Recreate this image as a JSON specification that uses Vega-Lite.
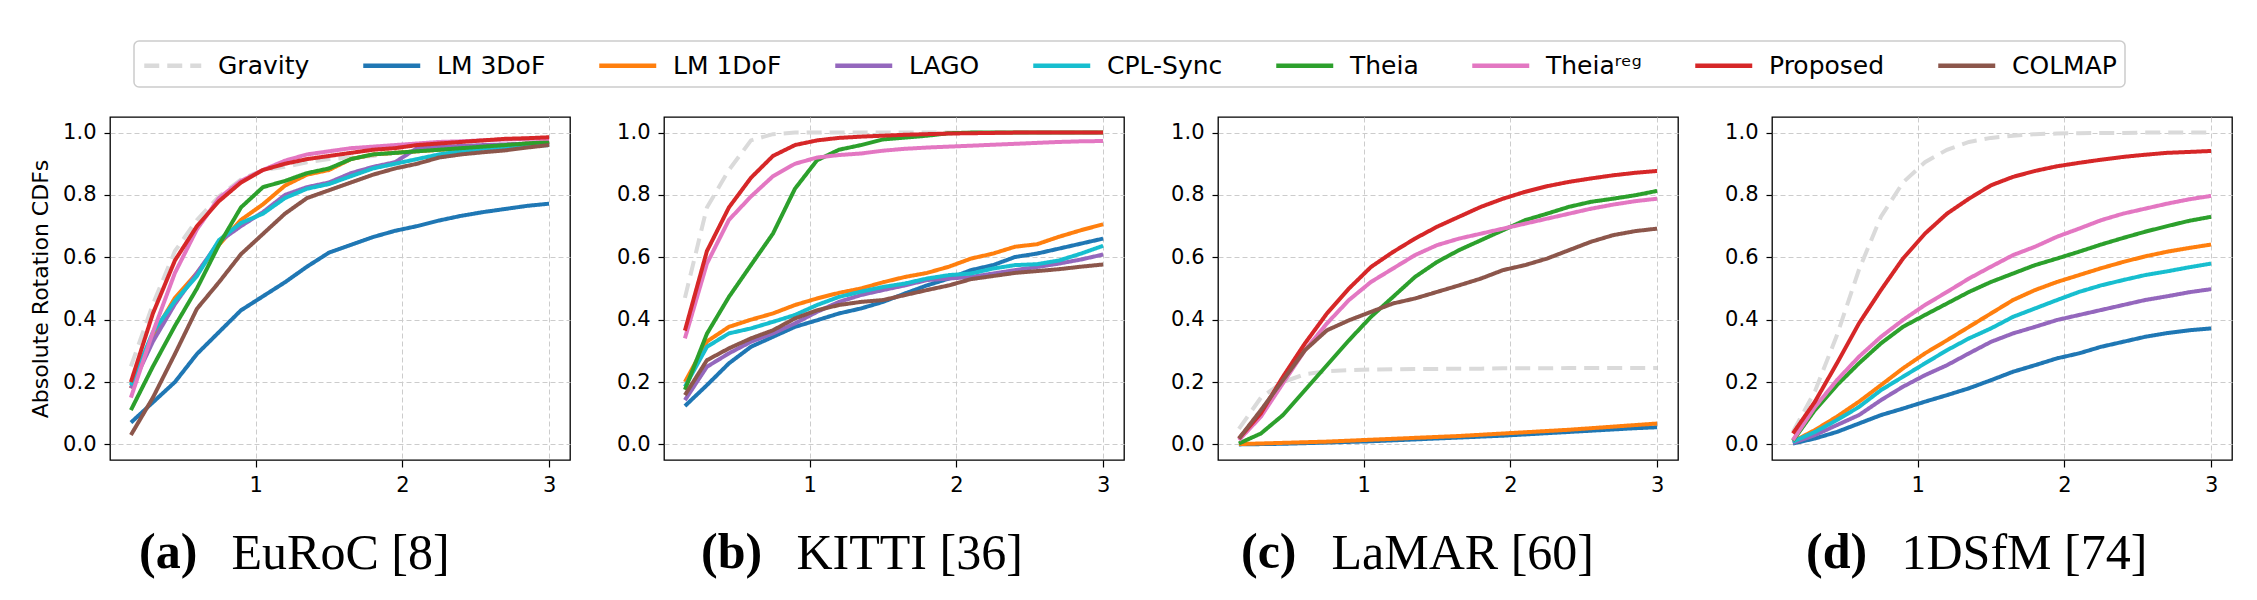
{
"$schema": "https://vega.github.io/schema/vega-lite/v6.json",
"background": "white",
"padding": {"left": 28, "top": 40, "right": 5, "bottom": 5},
"datasets": {"d": [
{"p":"a","s":"Gravity","x":0.15,"y":0.25},{"p":"a","s":"Gravity","x":0.3,"y":0.45},{"p":"a","s":"Gravity","x":0.45,"y":0.62},{"p":"a","s":"Gravity","x":0.6,"y":0.72},{"p":"a","s":"Gravity","x":0.75,"y":0.795},{"p":"a","s":"Gravity","x":0.9,"y":0.85},{"p":"a","s":"Gravity","x":1.05,"y":0.88},{"p":"a","s":"Gravity","x":1.2,"y":0.89},{"p":"a","s":"Gravity","x":1.35,"y":0.905},{"p":"a","s":"Gravity","x":1.5,"y":0.915},{"p":"a","s":"Gravity","x":1.65,"y":0.92},{"p":"a","s":"Gravity","x":1.8,"y":0.925},{"p":"a","s":"Gravity","x":1.95,"y":0.935},{"p":"a","s":"Gravity","x":2.1,"y":0.94},{"p":"a","s":"Gravity","x":2.25,"y":0.945},{"p":"a","s":"Gravity","x":2.4,"y":0.95},{"p":"a","s":"Gravity","x":2.55,"y":0.955},{"p":"a","s":"Gravity","x":2.7,"y":0.96},{"p":"a","s":"Gravity","x":2.85,"y":0.965},{"p":"a","s":"Gravity","x":3,"y":0.97},
{"p":"a","s":"LM 3DoF","x":0.15,"y":0.07},{"p":"a","s":"LM 3DoF","x":0.3,"y":0.135},{"p":"a","s":"LM 3DoF","x":0.45,"y":0.2},{"p":"a","s":"LM 3DoF","x":0.6,"y":0.29},{"p":"a","s":"LM 3DoF","x":0.75,"y":0.36},{"p":"a","s":"LM 3DoF","x":0.9,"y":0.43},{"p":"a","s":"LM 3DoF","x":1.05,"y":0.475},{"p":"a","s":"LM 3DoF","x":1.2,"y":0.52},{"p":"a","s":"LM 3DoF","x":1.35,"y":0.57},{"p":"a","s":"LM 3DoF","x":1.5,"y":0.615},{"p":"a","s":"LM 3DoF","x":1.65,"y":0.64},{"p":"a","s":"LM 3DoF","x":1.8,"y":0.665},{"p":"a","s":"LM 3DoF","x":1.95,"y":0.685},{"p":"a","s":"LM 3DoF","x":2.1,"y":0.7},{"p":"a","s":"LM 3DoF","x":2.25,"y":0.718},{"p":"a","s":"LM 3DoF","x":2.4,"y":0.733},{"p":"a","s":"LM 3DoF","x":2.55,"y":0.745},{"p":"a","s":"LM 3DoF","x":2.7,"y":0.755},{"p":"a","s":"LM 3DoF","x":2.85,"y":0.765},{"p":"a","s":"LM 3DoF","x":3,"y":0.772},
{"p":"a","s":"LM 1DoF","x":0.15,"y":0.18},{"p":"a","s":"LM 1DoF","x":0.3,"y":0.35},{"p":"a","s":"LM 1DoF","x":0.45,"y":0.47},{"p":"a","s":"LM 1DoF","x":0.6,"y":0.55},{"p":"a","s":"LM 1DoF","x":0.75,"y":0.64},{"p":"a","s":"LM 1DoF","x":0.9,"y":0.72},{"p":"a","s":"LM 1DoF","x":1.05,"y":0.77},{"p":"a","s":"LM 1DoF","x":1.2,"y":0.83},{"p":"a","s":"LM 1DoF","x":1.35,"y":0.865},{"p":"a","s":"LM 1DoF","x":1.5,"y":0.88},{"p":"a","s":"LM 1DoF","x":1.65,"y":0.915},{"p":"a","s":"LM 1DoF","x":1.8,"y":0.93},{"p":"a","s":"LM 1DoF","x":1.95,"y":0.935},{"p":"a","s":"LM 1DoF","x":2.1,"y":0.94},{"p":"a","s":"LM 1DoF","x":2.25,"y":0.945},{"p":"a","s":"LM 1DoF","x":2.4,"y":0.95},{"p":"a","s":"LM 1DoF","x":2.55,"y":0.955},{"p":"a","s":"LM 1DoF","x":2.7,"y":0.96},{"p":"a","s":"LM 1DoF","x":2.85,"y":0.965},{"p":"a","s":"LM 1DoF","x":3,"y":0.97},
{"p":"a","s":"LAGO","x":0.15,"y":0.18},{"p":"a","s":"LAGO","x":0.3,"y":0.33},{"p":"a","s":"LAGO","x":0.45,"y":0.45},{"p":"a","s":"LAGO","x":0.6,"y":0.55},{"p":"a","s":"LAGO","x":0.75,"y":0.65},{"p":"a","s":"LAGO","x":0.9,"y":0.7},{"p":"a","s":"LAGO","x":1.05,"y":0.745},{"p":"a","s":"LAGO","x":1.2,"y":0.8},{"p":"a","s":"LAGO","x":1.35,"y":0.825},{"p":"a","s":"LAGO","x":1.5,"y":0.84},{"p":"a","s":"LAGO","x":1.65,"y":0.87},{"p":"a","s":"LAGO","x":1.8,"y":0.89},{"p":"a","s":"LAGO","x":1.95,"y":0.905},{"p":"a","s":"LAGO","x":2.1,"y":0.95},{"p":"a","s":"LAGO","x":2.25,"y":0.955},{"p":"a","s":"LAGO","x":2.4,"y":0.957},{"p":"a","s":"LAGO","x":2.55,"y":0.96},{"p":"a","s":"LAGO","x":2.7,"y":0.962},{"p":"a","s":"LAGO","x":2.85,"y":0.965},{"p":"a","s":"LAGO","x":3,"y":0.965},
{"p":"a","s":"CPL-Sync","x":0.15,"y":0.19},{"p":"a","s":"CPL-Sync","x":0.3,"y":0.36},{"p":"a","s":"CPL-Sync","x":0.45,"y":0.46},{"p":"a","s":"CPL-Sync","x":0.6,"y":0.54},{"p":"a","s":"CPL-Sync","x":0.75,"y":0.655},{"p":"a","s":"CPL-Sync","x":0.9,"y":0.71},{"p":"a","s":"CPL-Sync","x":1.05,"y":0.74},{"p":"a","s":"CPL-Sync","x":1.2,"y":0.79},{"p":"a","s":"CPL-Sync","x":1.35,"y":0.82},{"p":"a","s":"CPL-Sync","x":1.5,"y":0.835},{"p":"a","s":"CPL-Sync","x":1.65,"y":0.86},{"p":"a","s":"CPL-Sync","x":1.8,"y":0.885},{"p":"a","s":"CPL-Sync","x":1.95,"y":0.9},{"p":"a","s":"CPL-Sync","x":2.1,"y":0.915},{"p":"a","s":"CPL-Sync","x":2.25,"y":0.93},{"p":"a","s":"CPL-Sync","x":2.4,"y":0.94},{"p":"a","s":"CPL-Sync","x":2.55,"y":0.948},{"p":"a","s":"CPL-Sync","x":2.7,"y":0.953},{"p":"a","s":"CPL-Sync","x":2.85,"y":0.957},{"p":"a","s":"CPL-Sync","x":3,"y":0.96},
{"p":"a","s":"Theia","x":0.15,"y":0.11},{"p":"a","s":"Theia","x":0.3,"y":0.25},{"p":"a","s":"Theia","x":0.45,"y":0.38},{"p":"a","s":"Theia","x":0.6,"y":0.5},{"p":"a","s":"Theia","x":0.75,"y":0.64},{"p":"a","s":"Theia","x":0.9,"y":0.76},{"p":"a","s":"Theia","x":1.05,"y":0.825},{"p":"a","s":"Theia","x":1.2,"y":0.845},{"p":"a","s":"Theia","x":1.35,"y":0.87},{"p":"a","s":"Theia","x":1.5,"y":0.885},{"p":"a","s":"Theia","x":1.65,"y":0.915},{"p":"a","s":"Theia","x":1.8,"y":0.93},{"p":"a","s":"Theia","x":1.95,"y":0.935},{"p":"a","s":"Theia","x":2.1,"y":0.94},{"p":"a","s":"Theia","x":2.25,"y":0.945},{"p":"a","s":"Theia","x":2.4,"y":0.95},{"p":"a","s":"Theia","x":2.55,"y":0.955},{"p":"a","s":"Theia","x":2.7,"y":0.96},{"p":"a","s":"Theia","x":2.85,"y":0.965},{"p":"a","s":"Theia","x":3,"y":0.97},
{"p":"a","s":"Theiaʳᵉᵍ","x":0.15,"y":0.15},{"p":"a","s":"Theiaʳᵉᵍ","x":0.3,"y":0.36},{"p":"a","s":"Theiaʳᵉᵍ","x":0.45,"y":0.55},{"p":"a","s":"Theiaʳᵉᵍ","x":0.6,"y":0.69},{"p":"a","s":"Theiaʳᵉᵍ","x":0.75,"y":0.79},{"p":"a","s":"Theiaʳᵉᵍ","x":0.9,"y":0.845},{"p":"a","s":"Theiaʳᵉᵍ","x":1.05,"y":0.88},{"p":"a","s":"Theiaʳᵉᵍ","x":1.2,"y":0.91},{"p":"a","s":"Theiaʳᵉᵍ","x":1.35,"y":0.93},{"p":"a","s":"Theiaʳᵉᵍ","x":1.5,"y":0.94},{"p":"a","s":"Theiaʳᵉᵍ","x":1.65,"y":0.95},{"p":"a","s":"Theiaʳᵉᵍ","x":1.8,"y":0.955},{"p":"a","s":"Theiaʳᵉᵍ","x":1.95,"y":0.96},{"p":"a","s":"Theiaʳᵉᵍ","x":2.1,"y":0.965},{"p":"a","s":"Theiaʳᵉᵍ","x":2.25,"y":0.97},{"p":"a","s":"Theiaʳᵉᵍ","x":2.4,"y":0.972},{"p":"a","s":"Theiaʳᵉᵍ","x":2.55,"y":0.975},{"p":"a","s":"Theiaʳᵉᵍ","x":2.7,"y":0.978},{"p":"a","s":"Theiaʳᵉᵍ","x":2.85,"y":0.98},{"p":"a","s":"Theiaʳᵉᵍ","x":3,"y":0.98},
{"p":"a","s":"Proposed","x":0.15,"y":0.2},{"p":"a","s":"Proposed","x":0.3,"y":0.42},{"p":"a","s":"Proposed","x":0.45,"y":0.59},{"p":"a","s":"Proposed","x":0.6,"y":0.7},{"p":"a","s":"Proposed","x":0.75,"y":0.78},{"p":"a","s":"Proposed","x":0.9,"y":0.84},{"p":"a","s":"Proposed","x":1.05,"y":0.88},{"p":"a","s":"Proposed","x":1.2,"y":0.9},{"p":"a","s":"Proposed","x":1.35,"y":0.915},{"p":"a","s":"Proposed","x":1.5,"y":0.925},{"p":"a","s":"Proposed","x":1.65,"y":0.935},{"p":"a","s":"Proposed","x":1.8,"y":0.945},{"p":"a","s":"Proposed","x":1.95,"y":0.95},{"p":"a","s":"Proposed","x":2.1,"y":0.96},{"p":"a","s":"Proposed","x":2.25,"y":0.965},{"p":"a","s":"Proposed","x":2.4,"y":0.97},{"p":"a","s":"Proposed","x":2.55,"y":0.975},{"p":"a","s":"Proposed","x":2.7,"y":0.98},{"p":"a","s":"Proposed","x":2.85,"y":0.982},{"p":"a","s":"Proposed","x":3,"y":0.985},
{"p":"a","s":"COLMAP","x":0.15,"y":0.03},{"p":"a","s":"COLMAP","x":0.3,"y":0.15},{"p":"a","s":"COLMAP","x":0.45,"y":0.29},{"p":"a","s":"COLMAP","x":0.6,"y":0.435},{"p":"a","s":"COLMAP","x":0.75,"y":0.52},{"p":"a","s":"COLMAP","x":0.9,"y":0.61},{"p":"a","s":"COLMAP","x":1.05,"y":0.675},{"p":"a","s":"COLMAP","x":1.2,"y":0.74},{"p":"a","s":"COLMAP","x":1.35,"y":0.79},{"p":"a","s":"COLMAP","x":1.5,"y":0.815},{"p":"a","s":"COLMAP","x":1.65,"y":0.84},{"p":"a","s":"COLMAP","x":1.8,"y":0.865},{"p":"a","s":"COLMAP","x":1.95,"y":0.885},{"p":"a","s":"COLMAP","x":2.1,"y":0.9},{"p":"a","s":"COLMAP","x":2.25,"y":0.92},{"p":"a","s":"COLMAP","x":2.4,"y":0.93},{"p":"a","s":"COLMAP","x":2.55,"y":0.937},{"p":"a","s":"COLMAP","x":2.7,"y":0.943},{"p":"a","s":"COLMAP","x":2.85,"y":0.952},{"p":"a","s":"COLMAP","x":3,"y":0.96},
{"p":"b","s":"Gravity","x":0.15,"y":0.47},{"p":"b","s":"Gravity","x":0.3,"y":0.76},{"p":"b","s":"Gravity","x":0.45,"y":0.88},{"p":"b","s":"Gravity","x":0.6,"y":0.975},{"p":"b","s":"Gravity","x":0.75,"y":0.995},{"p":"b","s":"Gravity","x":0.9,"y":1},{"p":"b","s":"Gravity","x":1.05,"y":1},{"p":"b","s":"Gravity","x":1.2,"y":1},{"p":"b","s":"Gravity","x":1.35,"y":1},{"p":"b","s":"Gravity","x":1.5,"y":1},{"p":"b","s":"Gravity","x":1.65,"y":1},{"p":"b","s":"Gravity","x":1.8,"y":1},{"p":"b","s":"Gravity","x":1.95,"y":1},{"p":"b","s":"Gravity","x":2.1,"y":1},{"p":"b","s":"Gravity","x":2.25,"y":1},{"p":"b","s":"Gravity","x":2.4,"y":1},{"p":"b","s":"Gravity","x":2.55,"y":1},{"p":"b","s":"Gravity","x":2.7,"y":1},{"p":"b","s":"Gravity","x":2.85,"y":1},{"p":"b","s":"Gravity","x":3,"y":1},
{"p":"b","s":"LM 3DoF","x":0.15,"y":0.123},{"p":"b","s":"LM 3DoF","x":0.3,"y":0.19},{"p":"b","s":"LM 3DoF","x":0.45,"y":0.26},{"p":"b","s":"LM 3DoF","x":0.6,"y":0.313},{"p":"b","s":"LM 3DoF","x":0.75,"y":0.345},{"p":"b","s":"LM 3DoF","x":0.9,"y":0.377},{"p":"b","s":"LM 3DoF","x":1.05,"y":0.398},{"p":"b","s":"LM 3DoF","x":1.2,"y":0.42},{"p":"b","s":"LM 3DoF","x":1.35,"y":0.436},{"p":"b","s":"LM 3DoF","x":1.5,"y":0.457},{"p":"b","s":"LM 3DoF","x":1.65,"y":0.484},{"p":"b","s":"LM 3DoF","x":1.8,"y":0.51},{"p":"b","s":"LM 3DoF","x":1.95,"y":0.532},{"p":"b","s":"LM 3DoF","x":2.1,"y":0.559},{"p":"b","s":"LM 3DoF","x":2.25,"y":0.575},{"p":"b","s":"LM 3DoF","x":2.4,"y":0.601},{"p":"b","s":"LM 3DoF","x":2.55,"y":0.612},{"p":"b","s":"LM 3DoF","x":2.7,"y":0.628},{"p":"b","s":"LM 3DoF","x":2.85,"y":0.644},{"p":"b","s":"LM 3DoF","x":3,"y":0.66},
{"p":"b","s":"LM 1DoF","x":0.15,"y":0.2},{"p":"b","s":"LM 1DoF","x":0.3,"y":0.33},{"p":"b","s":"LM 1DoF","x":0.45,"y":0.377},{"p":"b","s":"LM 1DoF","x":0.6,"y":0.4},{"p":"b","s":"LM 1DoF","x":0.75,"y":0.42},{"p":"b","s":"LM 1DoF","x":0.9,"y":0.447},{"p":"b","s":"LM 1DoF","x":1.05,"y":0.468},{"p":"b","s":"LM 1DoF","x":1.2,"y":0.486},{"p":"b","s":"LM 1DoF","x":1.35,"y":0.5},{"p":"b","s":"LM 1DoF","x":1.5,"y":0.52},{"p":"b","s":"LM 1DoF","x":1.65,"y":0.537},{"p":"b","s":"LM 1DoF","x":1.8,"y":0.55},{"p":"b","s":"LM 1DoF","x":1.95,"y":0.57},{"p":"b","s":"LM 1DoF","x":2.1,"y":0.596},{"p":"b","s":"LM 1DoF","x":2.25,"y":0.612},{"p":"b","s":"LM 1DoF","x":2.4,"y":0.634},{"p":"b","s":"LM 1DoF","x":2.55,"y":0.642},{"p":"b","s":"LM 1DoF","x":2.7,"y":0.666},{"p":"b","s":"LM 1DoF","x":2.85,"y":0.687},{"p":"b","s":"LM 1DoF","x":3,"y":0.706},
{"p":"b","s":"LAGO","x":0.15,"y":0.142},{"p":"b","s":"LAGO","x":0.3,"y":0.249},{"p":"b","s":"LAGO","x":0.45,"y":0.292},{"p":"b","s":"LAGO","x":0.6,"y":0.329},{"p":"b","s":"LAGO","x":0.75,"y":0.356},{"p":"b","s":"LAGO","x":0.9,"y":0.388},{"p":"b","s":"LAGO","x":1.05,"y":0.425},{"p":"b","s":"LAGO","x":1.2,"y":0.457},{"p":"b","s":"LAGO","x":1.35,"y":0.479},{"p":"b","s":"LAGO","x":1.5,"y":0.495},{"p":"b","s":"LAGO","x":1.65,"y":0.51},{"p":"b","s":"LAGO","x":1.8,"y":0.527},{"p":"b","s":"LAGO","x":1.95,"y":0.532},{"p":"b","s":"LAGO","x":2.1,"y":0.537},{"p":"b","s":"LAGO","x":2.25,"y":0.548},{"p":"b","s":"LAGO","x":2.4,"y":0.559},{"p":"b","s":"LAGO","x":2.55,"y":0.569},{"p":"b","s":"LAGO","x":2.7,"y":0.58},{"p":"b","s":"LAGO","x":2.85,"y":0.593},{"p":"b","s":"LAGO","x":3,"y":0.609},
{"p":"b","s":"CPL-Sync","x":0.15,"y":0.185},{"p":"b","s":"CPL-Sync","x":0.3,"y":0.313},{"p":"b","s":"CPL-Sync","x":0.45,"y":0.356},{"p":"b","s":"CPL-Sync","x":0.6,"y":0.372},{"p":"b","s":"CPL-Sync","x":0.75,"y":0.393},{"p":"b","s":"CPL-Sync","x":0.9,"y":0.415},{"p":"b","s":"CPL-Sync","x":1.05,"y":0.447},{"p":"b","s":"CPL-Sync","x":1.2,"y":0.473},{"p":"b","s":"CPL-Sync","x":1.35,"y":0.49},{"p":"b","s":"CPL-Sync","x":1.5,"y":0.505},{"p":"b","s":"CPL-Sync","x":1.65,"y":0.516},{"p":"b","s":"CPL-Sync","x":1.8,"y":0.532},{"p":"b","s":"CPL-Sync","x":1.95,"y":0.543},{"p":"b","s":"CPL-Sync","x":2.1,"y":0.548},{"p":"b","s":"CPL-Sync","x":2.25,"y":0.564},{"p":"b","s":"CPL-Sync","x":2.4,"y":0.575},{"p":"b","s":"CPL-Sync","x":2.55,"y":0.578},{"p":"b","s":"CPL-Sync","x":2.7,"y":0.59},{"p":"b","s":"CPL-Sync","x":2.85,"y":0.612},{"p":"b","s":"CPL-Sync","x":3,"y":0.637},
{"p":"b","s":"Theia","x":0.15,"y":0.175},{"p":"b","s":"Theia","x":0.3,"y":0.355},{"p":"b","s":"Theia","x":0.45,"y":0.473},{"p":"b","s":"Theia","x":0.6,"y":0.575},{"p":"b","s":"Theia","x":0.75,"y":0.676},{"p":"b","s":"Theia","x":0.9,"y":0.82},{"p":"b","s":"Theia","x":1.05,"y":0.911},{"p":"b","s":"Theia","x":1.2,"y":0.945},{"p":"b","s":"Theia","x":1.35,"y":0.96},{"p":"b","s":"Theia","x":1.5,"y":0.978},{"p":"b","s":"Theia","x":1.65,"y":0.984},{"p":"b","s":"Theia","x":1.8,"y":0.99},{"p":"b","s":"Theia","x":1.95,"y":0.998},{"p":"b","s":"Theia","x":2.1,"y":1},{"p":"b","s":"Theia","x":2.25,"y":1},{"p":"b","s":"Theia","x":2.4,"y":1},{"p":"b","s":"Theia","x":2.55,"y":1},{"p":"b","s":"Theia","x":2.7,"y":1},{"p":"b","s":"Theia","x":2.85,"y":1},{"p":"b","s":"Theia","x":3,"y":1},
{"p":"b","s":"Theiaʳᵉᵍ","x":0.15,"y":0.34},{"p":"b","s":"Theiaʳᵉᵍ","x":0.3,"y":0.58},{"p":"b","s":"Theiaʳᵉᵍ","x":0.45,"y":0.72},{"p":"b","s":"Theiaʳᵉᵍ","x":0.6,"y":0.795},{"p":"b","s":"Theiaʳᵉᵍ","x":0.75,"y":0.86},{"p":"b","s":"Theiaʳᵉᵍ","x":0.9,"y":0.9},{"p":"b","s":"Theiaʳᵉᵍ","x":1.05,"y":0.92},{"p":"b","s":"Theiaʳᵉᵍ","x":1.2,"y":0.928},{"p":"b","s":"Theiaʳᵉᵍ","x":1.35,"y":0.933},{"p":"b","s":"Theiaʳᵉᵍ","x":1.5,"y":0.942},{"p":"b","s":"Theiaʳᵉᵍ","x":1.65,"y":0.948},{"p":"b","s":"Theiaʳᵉᵍ","x":1.8,"y":0.952},{"p":"b","s":"Theiaʳᵉᵍ","x":1.95,"y":0.955},{"p":"b","s":"Theiaʳᵉᵍ","x":2.1,"y":0.958},{"p":"b","s":"Theiaʳᵉᵍ","x":2.25,"y":0.961},{"p":"b","s":"Theiaʳᵉᵍ","x":2.4,"y":0.964},{"p":"b","s":"Theiaʳᵉᵍ","x":2.55,"y":0.967},{"p":"b","s":"Theiaʳᵉᵍ","x":2.7,"y":0.97},{"p":"b","s":"Theiaʳᵉᵍ","x":2.85,"y":0.972},{"p":"b","s":"Theiaʳᵉᵍ","x":3,"y":0.973},
{"p":"b","s":"Proposed","x":0.15,"y":0.365},{"p":"b","s":"Proposed","x":0.3,"y":0.62},{"p":"b","s":"Proposed","x":0.45,"y":0.76},{"p":"b","s":"Proposed","x":0.6,"y":0.855},{"p":"b","s":"Proposed","x":0.75,"y":0.925},{"p":"b","s":"Proposed","x":0.9,"y":0.96},{"p":"b","s":"Proposed","x":1.05,"y":0.975},{"p":"b","s":"Proposed","x":1.2,"y":0.983},{"p":"b","s":"Proposed","x":1.35,"y":0.987},{"p":"b","s":"Proposed","x":1.5,"y":0.99},{"p":"b","s":"Proposed","x":1.65,"y":0.993},{"p":"b","s":"Proposed","x":1.8,"y":0.995},{"p":"b","s":"Proposed","x":1.95,"y":0.997},{"p":"b","s":"Proposed","x":2.1,"y":0.998},{"p":"b","s":"Proposed","x":2.25,"y":0.999},{"p":"b","s":"Proposed","x":2.4,"y":1},{"p":"b","s":"Proposed","x":2.55,"y":1},{"p":"b","s":"Proposed","x":2.7,"y":1},{"p":"b","s":"Proposed","x":2.85,"y":1},{"p":"b","s":"Proposed","x":3,"y":1},
{"p":"b","s":"COLMAP","x":0.15,"y":0.158},{"p":"b","s":"COLMAP","x":0.3,"y":0.27},{"p":"b","s":"COLMAP","x":0.45,"y":0.308},{"p":"b","s":"COLMAP","x":0.6,"y":0.34},{"p":"b","s":"COLMAP","x":0.75,"y":0.366},{"p":"b","s":"COLMAP","x":0.9,"y":0.404},{"p":"b","s":"COLMAP","x":1.05,"y":0.43},{"p":"b","s":"COLMAP","x":1.2,"y":0.447},{"p":"b","s":"COLMAP","x":1.35,"y":0.457},{"p":"b","s":"COLMAP","x":1.5,"y":0.463},{"p":"b","s":"COLMAP","x":1.65,"y":0.479},{"p":"b","s":"COLMAP","x":1.8,"y":0.495},{"p":"b","s":"COLMAP","x":1.95,"y":0.51},{"p":"b","s":"COLMAP","x":2.1,"y":0.53},{"p":"b","s":"COLMAP","x":2.25,"y":0.54},{"p":"b","s":"COLMAP","x":2.4,"y":0.55},{"p":"b","s":"COLMAP","x":2.55,"y":0.556},{"p":"b","s":"COLMAP","x":2.7,"y":0.562},{"p":"b","s":"COLMAP","x":2.85,"y":0.57},{"p":"b","s":"COLMAP","x":3,"y":0.577},
{"p":"c","s":"Gravity","x":0.15,"y":0.05},{"p":"c","s":"Gravity","x":0.3,"y":0.15},{"p":"c","s":"Gravity","x":0.45,"y":0.2},{"p":"c","s":"Gravity","x":0.6,"y":0.225},{"p":"c","s":"Gravity","x":0.75,"y":0.235},{"p":"c","s":"Gravity","x":0.9,"y":0.238},{"p":"c","s":"Gravity","x":1.05,"y":0.24},{"p":"c","s":"Gravity","x":1.2,"y":0.241},{"p":"c","s":"Gravity","x":1.35,"y":0.242},{"p":"c","s":"Gravity","x":1.5,"y":0.242},{"p":"c","s":"Gravity","x":1.65,"y":0.243},{"p":"c","s":"Gravity","x":1.8,"y":0.243},{"p":"c","s":"Gravity","x":1.95,"y":0.244},{"p":"c","s":"Gravity","x":2.1,"y":0.244},{"p":"c","s":"Gravity","x":2.25,"y":0.244},{"p":"c","s":"Gravity","x":2.4,"y":0.245},{"p":"c","s":"Gravity","x":2.55,"y":0.245},{"p":"c","s":"Gravity","x":2.7,"y":0.245},{"p":"c","s":"Gravity","x":2.85,"y":0.245},{"p":"c","s":"Gravity","x":3,"y":0.245},
{"p":"c","s":"LM 3DoF","x":0.15,"y":0},{"p":"c","s":"LM 3DoF","x":0.3,"y":0.001},{"p":"c","s":"LM 3DoF","x":0.45,"y":0.002},{"p":"c","s":"LM 3DoF","x":0.6,"y":0.004},{"p":"c","s":"LM 3DoF","x":0.75,"y":0.006},{"p":"c","s":"LM 3DoF","x":0.9,"y":0.008},{"p":"c","s":"LM 3DoF","x":1.05,"y":0.01},{"p":"c","s":"LM 3DoF","x":1.2,"y":0.013},{"p":"c","s":"LM 3DoF","x":1.35,"y":0.016},{"p":"c","s":"LM 3DoF","x":1.5,"y":0.019},{"p":"c","s":"LM 3DoF","x":1.65,"y":0.022},{"p":"c","s":"LM 3DoF","x":1.8,"y":0.025},{"p":"c","s":"LM 3DoF","x":1.95,"y":0.028},{"p":"c","s":"LM 3DoF","x":2.1,"y":0.032},{"p":"c","s":"LM 3DoF","x":2.25,"y":0.036},{"p":"c","s":"LM 3DoF","x":2.4,"y":0.04},{"p":"c","s":"LM 3DoF","x":2.55,"y":0.044},{"p":"c","s":"LM 3DoF","x":2.7,"y":0.048},{"p":"c","s":"LM 3DoF","x":2.85,"y":0.052},{"p":"c","s":"LM 3DoF","x":3,"y":0.055},
{"p":"c","s":"LM 1DoF","x":0.15,"y":0.001},{"p":"c","s":"LM 1DoF","x":0.3,"y":0.003},{"p":"c","s":"LM 1DoF","x":0.45,"y":0.005},{"p":"c","s":"LM 1DoF","x":0.6,"y":0.007},{"p":"c","s":"LM 1DoF","x":0.75,"y":0.009},{"p":"c","s":"LM 1DoF","x":0.9,"y":0.012},{"p":"c","s":"LM 1DoF","x":1.05,"y":0.015},{"p":"c","s":"LM 1DoF","x":1.2,"y":0.018},{"p":"c","s":"LM 1DoF","x":1.35,"y":0.021},{"p":"c","s":"LM 1DoF","x":1.5,"y":0.024},{"p":"c","s":"LM 1DoF","x":1.65,"y":0.027},{"p":"c","s":"LM 1DoF","x":1.8,"y":0.031},{"p":"c","s":"LM 1DoF","x":1.95,"y":0.035},{"p":"c","s":"LM 1DoF","x":2.1,"y":0.039},{"p":"c","s":"LM 1DoF","x":2.25,"y":0.043},{"p":"c","s":"LM 1DoF","x":2.4,"y":0.047},{"p":"c","s":"LM 1DoF","x":2.55,"y":0.052},{"p":"c","s":"LM 1DoF","x":2.7,"y":0.057},{"p":"c","s":"LM 1DoF","x":2.85,"y":0.062},{"p":"c","s":"LM 1DoF","x":3,"y":0.067},
{"p":"c","s":"Theia","x":0.15,"y":0.003},{"p":"c","s":"Theia","x":0.3,"y":0.035},{"p":"c","s":"Theia","x":0.45,"y":0.094},{"p":"c","s":"Theia","x":0.6,"y":0.174},{"p":"c","s":"Theia","x":0.75,"y":0.254},{"p":"c","s":"Theia","x":0.9,"y":0.334},{"p":"c","s":"Theia","x":1.05,"y":0.409},{"p":"c","s":"Theia","x":1.2,"y":0.473},{"p":"c","s":"Theia","x":1.35,"y":0.537},{"p":"c","s":"Theia","x":1.5,"y":0.585},{"p":"c","s":"Theia","x":1.65,"y":0.623},{"p":"c","s":"Theia","x":1.8,"y":0.655},{"p":"c","s":"Theia","x":1.95,"y":0.687},{"p":"c","s":"Theia","x":2.1,"y":0.719},{"p":"c","s":"Theia","x":2.25,"y":0.74},{"p":"c","s":"Theia","x":2.4,"y":0.762},{"p":"c","s":"Theia","x":2.55,"y":0.778},{"p":"c","s":"Theia","x":2.7,"y":0.788},{"p":"c","s":"Theia","x":2.85,"y":0.799},{"p":"c","s":"Theia","x":3,"y":0.813},
{"p":"c","s":"Theiaʳᵉᵍ","x":0.15,"y":0.014},{"p":"c","s":"Theiaʳᵉᵍ","x":0.3,"y":0.089},{"p":"c","s":"Theiaʳᵉᵍ","x":0.45,"y":0.196},{"p":"c","s":"Theiaʳᵉᵍ","x":0.6,"y":0.302},{"p":"c","s":"Theiaʳᵉᵍ","x":0.75,"y":0.388},{"p":"c","s":"Theiaʳᵉᵍ","x":0.9,"y":0.463},{"p":"c","s":"Theiaʳᵉᵍ","x":1.05,"y":0.521},{"p":"c","s":"Theiaʳᵉᵍ","x":1.2,"y":0.564},{"p":"c","s":"Theiaʳᵉᵍ","x":1.35,"y":0.607},{"p":"c","s":"Theiaʳᵉᵍ","x":1.5,"y":0.639},{"p":"c","s":"Theiaʳᵉᵍ","x":1.65,"y":0.66},{"p":"c","s":"Theiaʳᵉᵍ","x":1.8,"y":0.676},{"p":"c","s":"Theiaʳᵉᵍ","x":1.95,"y":0.692},{"p":"c","s":"Theiaʳᵉᵍ","x":2.1,"y":0.708},{"p":"c","s":"Theiaʳᵉᵍ","x":2.25,"y":0.724},{"p":"c","s":"Theiaʳᵉᵍ","x":2.4,"y":0.74},{"p":"c","s":"Theiaʳᵉᵍ","x":2.55,"y":0.756},{"p":"c","s":"Theiaʳᵉᵍ","x":2.7,"y":0.769},{"p":"c","s":"Theiaʳᵉᵍ","x":2.85,"y":0.78},{"p":"c","s":"Theiaʳᵉᵍ","x":3,"y":0.788},
{"p":"c","s":"Proposed","x":0.15,"y":0.019},{"p":"c","s":"Proposed","x":0.3,"y":0.1},{"p":"c","s":"Proposed","x":0.45,"y":0.217},{"p":"c","s":"Proposed","x":0.6,"y":0.324},{"p":"c","s":"Proposed","x":0.75,"y":0.42},{"p":"c","s":"Proposed","x":0.9,"y":0.5},{"p":"c","s":"Proposed","x":1.05,"y":0.569},{"p":"c","s":"Proposed","x":1.2,"y":0.617},{"p":"c","s":"Proposed","x":1.35,"y":0.66},{"p":"c","s":"Proposed","x":1.5,"y":0.698},{"p":"c","s":"Proposed","x":1.65,"y":0.73},{"p":"c","s":"Proposed","x":1.8,"y":0.762},{"p":"c","s":"Proposed","x":1.95,"y":0.788},{"p":"c","s":"Proposed","x":2.1,"y":0.81},{"p":"c","s":"Proposed","x":2.25,"y":0.828},{"p":"c","s":"Proposed","x":2.4,"y":0.842},{"p":"c","s":"Proposed","x":2.55,"y":0.853},{"p":"c","s":"Proposed","x":2.7,"y":0.863},{"p":"c","s":"Proposed","x":2.85,"y":0.871},{"p":"c","s":"Proposed","x":3,"y":0.877},
{"p":"c","s":"COLMAP","x":0.15,"y":0.019},{"p":"c","s":"COLMAP","x":0.3,"y":0.11},{"p":"c","s":"COLMAP","x":0.45,"y":0.206},{"p":"c","s":"COLMAP","x":0.6,"y":0.302},{"p":"c","s":"COLMAP","x":0.75,"y":0.366},{"p":"c","s":"COLMAP","x":0.9,"y":0.398},{"p":"c","s":"COLMAP","x":1.05,"y":0.425},{"p":"c","s":"COLMAP","x":1.2,"y":0.452},{"p":"c","s":"COLMAP","x":1.35,"y":0.468},{"p":"c","s":"COLMAP","x":1.5,"y":0.489},{"p":"c","s":"COLMAP","x":1.65,"y":0.51},{"p":"c","s":"COLMAP","x":1.8,"y":0.532},{"p":"c","s":"COLMAP","x":1.95,"y":0.559},{"p":"c","s":"COLMAP","x":2.1,"y":0.575},{"p":"c","s":"COLMAP","x":2.25,"y":0.596},{"p":"c","s":"COLMAP","x":2.4,"y":0.623},{"p":"c","s":"COLMAP","x":2.55,"y":0.65},{"p":"c","s":"COLMAP","x":2.7,"y":0.671},{"p":"c","s":"COLMAP","x":2.85,"y":0.684},{"p":"c","s":"COLMAP","x":3,"y":0.692},
{"p":"d","s":"Gravity","x":0.15,"y":0.04},{"p":"d","s":"Gravity","x":0.3,"y":0.17},{"p":"d","s":"Gravity","x":0.45,"y":0.35},{"p":"d","s":"Gravity","x":0.6,"y":0.56},{"p":"d","s":"Gravity","x":0.75,"y":0.73},{"p":"d","s":"Gravity","x":0.9,"y":0.84},{"p":"d","s":"Gravity","x":1.05,"y":0.905},{"p":"d","s":"Gravity","x":1.2,"y":0.945},{"p":"d","s":"Gravity","x":1.35,"y":0.97},{"p":"d","s":"Gravity","x":1.5,"y":0.983},{"p":"d","s":"Gravity","x":1.65,"y":0.99},{"p":"d","s":"Gravity","x":1.8,"y":0.995},{"p":"d","s":"Gravity","x":1.95,"y":0.997},{"p":"d","s":"Gravity","x":2.1,"y":0.998},{"p":"d","s":"Gravity","x":2.25,"y":0.999},{"p":"d","s":"Gravity","x":2.4,"y":0.999},{"p":"d","s":"Gravity","x":2.55,"y":1},{"p":"d","s":"Gravity","x":2.7,"y":1},{"p":"d","s":"Gravity","x":2.85,"y":1},{"p":"d","s":"Gravity","x":3,"y":1},
{"p":"d","s":"LM 3DoF","x":0.15,"y":0.003},{"p":"d","s":"LM 3DoF","x":0.3,"y":0.019},{"p":"d","s":"LM 3DoF","x":0.45,"y":0.04},{"p":"d","s":"LM 3DoF","x":0.6,"y":0.067},{"p":"d","s":"LM 3DoF","x":0.75,"y":0.094},{"p":"d","s":"LM 3DoF","x":0.9,"y":0.115},{"p":"d","s":"LM 3DoF","x":1.05,"y":0.137},{"p":"d","s":"LM 3DoF","x":1.2,"y":0.158},{"p":"d","s":"LM 3DoF","x":1.35,"y":0.18},{"p":"d","s":"LM 3DoF","x":1.5,"y":0.206},{"p":"d","s":"LM 3DoF","x":1.65,"y":0.233},{"p":"d","s":"LM 3DoF","x":1.8,"y":0.254},{"p":"d","s":"LM 3DoF","x":1.95,"y":0.276},{"p":"d","s":"LM 3DoF","x":2.1,"y":0.292},{"p":"d","s":"LM 3DoF","x":2.25,"y":0.313},{"p":"d","s":"LM 3DoF","x":2.4,"y":0.329},{"p":"d","s":"LM 3DoF","x":2.55,"y":0.345},{"p":"d","s":"LM 3DoF","x":2.7,"y":0.357},{"p":"d","s":"LM 3DoF","x":2.85,"y":0.366},{"p":"d","s":"LM 3DoF","x":3,"y":0.372},
{"p":"d","s":"LM 1DoF","x":0.15,"y":0.009},{"p":"d","s":"LM 1DoF","x":0.3,"y":0.046},{"p":"d","s":"LM 1DoF","x":0.45,"y":0.089},{"p":"d","s":"LM 1DoF","x":0.6,"y":0.137},{"p":"d","s":"LM 1DoF","x":0.75,"y":0.19},{"p":"d","s":"LM 1DoF","x":0.9,"y":0.244},{"p":"d","s":"LM 1DoF","x":1.05,"y":0.292},{"p":"d","s":"LM 1DoF","x":1.2,"y":0.334},{"p":"d","s":"LM 1DoF","x":1.35,"y":0.377},{"p":"d","s":"LM 1DoF","x":1.5,"y":0.42},{"p":"d","s":"LM 1DoF","x":1.65,"y":0.463},{"p":"d","s":"LM 1DoF","x":1.8,"y":0.495},{"p":"d","s":"LM 1DoF","x":1.95,"y":0.521},{"p":"d","s":"LM 1DoF","x":2.1,"y":0.543},{"p":"d","s":"LM 1DoF","x":2.25,"y":0.565},{"p":"d","s":"LM 1DoF","x":2.4,"y":0.585},{"p":"d","s":"LM 1DoF","x":2.55,"y":0.603},{"p":"d","s":"LM 1DoF","x":2.7,"y":0.618},{"p":"d","s":"LM 1DoF","x":2.85,"y":0.63},{"p":"d","s":"LM 1DoF","x":3,"y":0.641},
{"p":"d","s":"LAGO","x":0.15,"y":0.005},{"p":"d","s":"LAGO","x":0.3,"y":0.03},{"p":"d","s":"LAGO","x":0.45,"y":0.062},{"p":"d","s":"LAGO","x":0.6,"y":0.094},{"p":"d","s":"LAGO","x":0.75,"y":0.142},{"p":"d","s":"LAGO","x":0.9,"y":0.185},{"p":"d","s":"LAGO","x":1.05,"y":0.222},{"p":"d","s":"LAGO","x":1.2,"y":0.254},{"p":"d","s":"LAGO","x":1.35,"y":0.292},{"p":"d","s":"LAGO","x":1.5,"y":0.329},{"p":"d","s":"LAGO","x":1.65,"y":0.356},{"p":"d","s":"LAGO","x":1.8,"y":0.377},{"p":"d","s":"LAGO","x":1.95,"y":0.399},{"p":"d","s":"LAGO","x":2.1,"y":0.415},{"p":"d","s":"LAGO","x":2.25,"y":0.431},{"p":"d","s":"LAGO","x":2.4,"y":0.447},{"p":"d","s":"LAGO","x":2.55,"y":0.463},{"p":"d","s":"LAGO","x":2.7,"y":0.475},{"p":"d","s":"LAGO","x":2.85,"y":0.488},{"p":"d","s":"LAGO","x":3,"y":0.498},
{"p":"d","s":"CPL-Sync","x":0.15,"y":0.009},{"p":"d","s":"CPL-Sync","x":0.3,"y":0.04},{"p":"d","s":"CPL-Sync","x":0.45,"y":0.078},{"p":"d","s":"CPL-Sync","x":0.6,"y":0.12},{"p":"d","s":"CPL-Sync","x":0.75,"y":0.174},{"p":"d","s":"CPL-Sync","x":0.9,"y":0.217},{"p":"d","s":"CPL-Sync","x":1.05,"y":0.26},{"p":"d","s":"CPL-Sync","x":1.2,"y":0.302},{"p":"d","s":"CPL-Sync","x":1.35,"y":0.34},{"p":"d","s":"CPL-Sync","x":1.5,"y":0.372},{"p":"d","s":"CPL-Sync","x":1.65,"y":0.409},{"p":"d","s":"CPL-Sync","x":1.8,"y":0.436},{"p":"d","s":"CPL-Sync","x":1.95,"y":0.463},{"p":"d","s":"CPL-Sync","x":2.1,"y":0.489},{"p":"d","s":"CPL-Sync","x":2.25,"y":0.51},{"p":"d","s":"CPL-Sync","x":2.4,"y":0.527},{"p":"d","s":"CPL-Sync","x":2.55,"y":0.543},{"p":"d","s":"CPL-Sync","x":2.7,"y":0.555},{"p":"d","s":"CPL-Sync","x":2.85,"y":0.568},{"p":"d","s":"CPL-Sync","x":3,"y":0.58},
{"p":"d","s":"Theia","x":0.15,"y":0.012},{"p":"d","s":"Theia","x":0.3,"y":0.11},{"p":"d","s":"Theia","x":0.45,"y":0.19},{"p":"d","s":"Theia","x":0.6,"y":0.26},{"p":"d","s":"Theia","x":0.75,"y":0.324},{"p":"d","s":"Theia","x":0.9,"y":0.377},{"p":"d","s":"Theia","x":1.05,"y":0.415},{"p":"d","s":"Theia","x":1.2,"y":0.452},{"p":"d","s":"Theia","x":1.35,"y":0.489},{"p":"d","s":"Theia","x":1.5,"y":0.521},{"p":"d","s":"Theia","x":1.65,"y":0.548},{"p":"d","s":"Theia","x":1.8,"y":0.575},{"p":"d","s":"Theia","x":1.95,"y":0.596},{"p":"d","s":"Theia","x":2.1,"y":0.618},{"p":"d","s":"Theia","x":2.25,"y":0.641},{"p":"d","s":"Theia","x":2.4,"y":0.662},{"p":"d","s":"Theia","x":2.55,"y":0.682},{"p":"d","s":"Theia","x":2.7,"y":0.7},{"p":"d","s":"Theia","x":2.85,"y":0.717},{"p":"d","s":"Theia","x":3,"y":0.73},
{"p":"d","s":"Theiaʳᵉᵍ","x":0.15,"y":0.014},{"p":"d","s":"Theiaʳᵉᵍ","x":0.3,"y":0.12},{"p":"d","s":"Theiaʳᵉᵍ","x":0.45,"y":0.206},{"p":"d","s":"Theiaʳᵉᵍ","x":0.6,"y":0.281},{"p":"d","s":"Theiaʳᵉᵍ","x":0.75,"y":0.345},{"p":"d","s":"Theiaʳᵉᵍ","x":0.9,"y":0.399},{"p":"d","s":"Theiaʳᵉᵍ","x":1.05,"y":0.447},{"p":"d","s":"Theiaʳᵉᵍ","x":1.2,"y":0.489},{"p":"d","s":"Theiaʳᵉᵍ","x":1.35,"y":0.532},{"p":"d","s":"Theiaʳᵉᵍ","x":1.5,"y":0.57},{"p":"d","s":"Theiaʳᵉᵍ","x":1.65,"y":0.607},{"p":"d","s":"Theiaʳᵉᵍ","x":1.8,"y":0.634},{"p":"d","s":"Theiaʳᵉᵍ","x":1.95,"y":0.666},{"p":"d","s":"Theiaʳᵉᵍ","x":2.1,"y":0.692},{"p":"d","s":"Theiaʳᵉᵍ","x":2.25,"y":0.719},{"p":"d","s":"Theiaʳᵉᵍ","x":2.4,"y":0.74},{"p":"d","s":"Theiaʳᵉᵍ","x":2.55,"y":0.756},{"p":"d","s":"Theiaʳᵉᵍ","x":2.7,"y":0.772},{"p":"d","s":"Theiaʳᵉᵍ","x":2.85,"y":0.786},{"p":"d","s":"Theiaʳᵉᵍ","x":3,"y":0.797},
{"p":"d","s":"Proposed","x":0.15,"y":0.035},{"p":"d","s":"Proposed","x":0.3,"y":0.137},{"p":"d","s":"Proposed","x":0.45,"y":0.26},{"p":"d","s":"Proposed","x":0.6,"y":0.388},{"p":"d","s":"Proposed","x":0.75,"y":0.495},{"p":"d","s":"Proposed","x":0.9,"y":0.596},{"p":"d","s":"Proposed","x":1.05,"y":0.676},{"p":"d","s":"Proposed","x":1.2,"y":0.74},{"p":"d","s":"Proposed","x":1.35,"y":0.788},{"p":"d","s":"Proposed","x":1.5,"y":0.831},{"p":"d","s":"Proposed","x":1.65,"y":0.858},{"p":"d","s":"Proposed","x":1.8,"y":0.877},{"p":"d","s":"Proposed","x":1.95,"y":0.892},{"p":"d","s":"Proposed","x":2.1,"y":0.903},{"p":"d","s":"Proposed","x":2.25,"y":0.913},{"p":"d","s":"Proposed","x":2.4,"y":0.922},{"p":"d","s":"Proposed","x":2.55,"y":0.929},{"p":"d","s":"Proposed","x":2.7,"y":0.935},{"p":"d","s":"Proposed","x":2.85,"y":0.938},{"p":"d","s":"Proposed","x":3,"y":0.941}
]},
"data": {"name": "d"},
"spacing": 94,
"bounds": "flush",
"resolve": {"scale": {"color": "shared", "strokeDash": "shared"}, "legend": {"color": "shared", "strokeDash": "shared"}},
"hconcat": [
{"width": 460, "height": 343, "transform": [{"filter": "datum.p == 'a'"}],
 "title": {"text": "(a)", "dx": 29},
 "mark": {"type": "line", "strokeWidth": 4},
 "encoding": {
  "x": {"field": "x", "type": "quantitative", "scale": {"domain": [0.0075, 3.1425], "nice": false, "zero": false}, "axis": {"values": [1, 2, 3], "title": "EuRoC [8]", "titleX": 121}},
  "y": {"field": "y", "type": "quantitative", "scale": {"domain": [-0.05, 1.05], "nice": false}, "axis": {"values": [0, 0.2, 0.4, 0.6, 0.8, 1], "format": ".1f", "title": "Absolute Rotation CDFs"}},
  "color": {"field": "s", "type": "nominal", "sort": null, "scale": {"domain": ["Gravity", "LM 3DoF", "LM 1DoF", "LAGO", "CPL-Sync", "Theia", "Theiaʳᵉᵍ", "Proposed", "COLMAP"], "range": ["#dadada", "#1f77b4", "#ff7f0e", "#9467bd", "#17becf", "#2ca02c", "#e377c2", "#d62728", "#8c564b"]}, "legend": {"title": null}},
  "strokeDash": {"field": "s", "type": "nominal", "sort": null, "scale": {"domain": ["Gravity", "LM 3DoF", "LM 1DoF", "LAGO", "CPL-Sync", "Theia", "Theiaʳᵉᵍ", "Proposed", "COLMAP"], "range": [[15, 8], [1, 0], [1, 0], [1, 0], [1, 0], [1, 0], [1, 0], [1, 0], [1, 0]]}, "legend": {"title": null}}
 }},
{"width": 460, "height": 343, "transform": [{"filter": "datum.p == 'b'"}],
 "title": {"text": "(b)", "dx": 37},
 "mark": {"type": "line", "strokeWidth": 4},
 "encoding": {
  "x": {"field": "x", "type": "quantitative", "scale": {"domain": [0.0075, 3.1425], "nice": false, "zero": false}, "axis": {"values": [1, 2, 3], "title": "KITTI [36]", "titleX": 132}},
  "y": {"field": "y", "type": "quantitative", "scale": {"domain": [-0.05, 1.05], "nice": false}, "axis": {"values": [0, 0.2, 0.4, 0.6, 0.8, 1], "format": ".1f", "title": null}},
  "color": {"field": "s", "type": "nominal", "sort": null, "legend": {"title": null}},
  "strokeDash": {"field": "s", "type": "nominal", "sort": null, "legend": {"title": null}}
 }},
{"width": 460, "height": 343, "transform": [{"filter": "datum.p == 'c'"}],
 "title": {"text": "(c)", "dx": 23},
 "mark": {"type": "line", "strokeWidth": 4},
 "encoding": {
  "x": {"field": "x", "type": "quantitative", "scale": {"domain": [0.0075, 3.1425], "nice": false, "zero": false}, "axis": {"values": [1, 2, 3], "title": "LaMAR [60]", "titleX": 113}},
  "y": {"field": "y", "type": "quantitative", "scale": {"domain": [-0.05, 1.05], "nice": false}, "axis": {"values": [0, 0.2, 0.4, 0.6, 0.8, 1], "format": ".1f", "title": null}},
  "color": {"field": "s", "type": "nominal", "sort": null, "legend": {"title": null}},
  "strokeDash": {"field": "s", "type": "nominal", "sort": null, "legend": {"title": null}}
 }},
{"width": 460, "height": 343, "transform": [{"filter": "datum.p == 'd'"}],
 "title": {"text": "(d)", "dx": 34},
 "mark": {"type": "line", "strokeWidth": 4},
 "encoding": {
  "x": {"field": "x", "type": "quantitative", "scale": {"domain": [0.0075, 3.1425], "nice": false, "zero": false}, "axis": {"values": [1, 2, 3], "title": "1DSfM [74]", "titleX": 129}},
  "y": {"field": "y", "type": "quantitative", "scale": {"domain": [-0.05, 1.05], "nice": false}, "axis": {"values": [0, 0.2, 0.4, 0.6, 0.8, 1], "format": ".1f", "title": null}},
  "color": {"field": "s", "type": "nominal", "sort": null, "legend": {"title": null}},
  "strokeDash": {"field": "s", "type": "nominal", "sort": null, "legend": {"title": null}}
 }}
],
"config": {
 "view": {"stroke": "black", "strokeWidth": 1.3},
 "axis": {"domain": false, "grid": true, "gridColor": "#cccccc", "gridDash": [5, 3], "gridWidth": 1, "ticks": true, "tickColor": "black", "tickWidth": 1.2, "labelFont": "DejaVu Sans", "labelFontSize": 21, "labelColor": "black", "titleColor": "black"},
 "axisX": {"tickSize": 7, "labelPadding": 7, "labelFlush": false, "titleFont": "Liberation Serif", "titleFontSize": 50, "titleFontWeight": "normal", "titleY": 108, "titleAlign": "left", "titleBaseline": "alphabetic"},
 "axisY": {"tickSize": 6, "labelPadding": 8, "titleFont": "DejaVu Sans", "titleFontSize": 22, "titleFontWeight": "normal", "titlePadding": 10},
 "title": {"orient": "bottom", "anchor": "start", "frame": "group", "offset": -50, "baseline": "alphabetic", "font": "Liberation Serif", "fontSize": 50, "fontWeight": "bold", "color": "black"},
 "legend": {"orient": "none", "legendX": 24, "legendY": -76, "direction": "horizontal", "symbolType": "M-1,0H3", "symbolSize": 812, "symbolStrokeWidth": 4.5, "labelFont": "DejaVu Sans", "labelFontSize": 25, "labelColor": "black", "labelOffset": 43, "columnPadding": 44, "padding": 8, "strokeColor": "#cccccc", "fillColor": "white", "cornerRadius": 5, "strokeWidth": 1.5}
}
}
